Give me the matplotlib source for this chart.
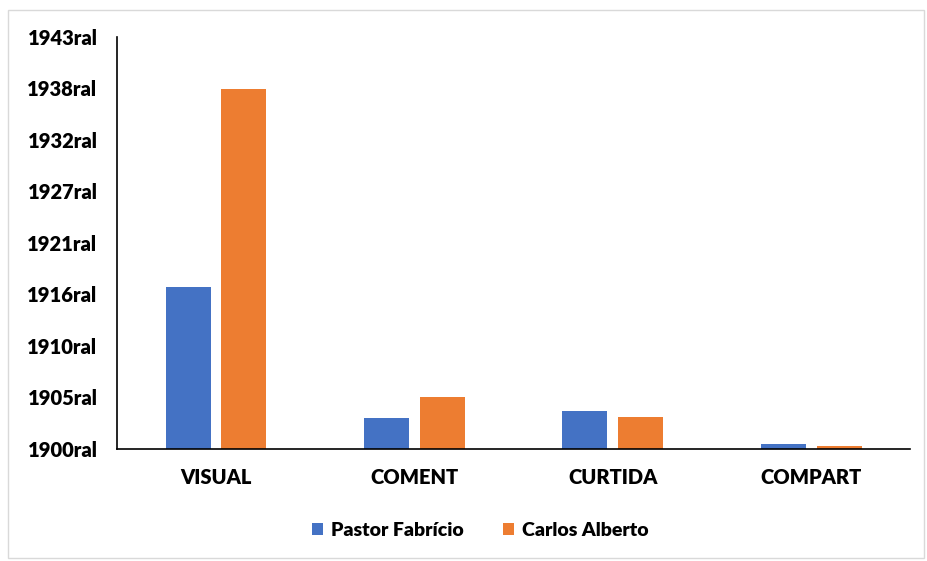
import matplotlib.pyplot as plt
import numpy as np
from matplotlib.patches import Rectangle

categories = ['VISUAL', 'COMENT', 'CURTIDA', 'COMPART']
pastor = [1916.9, 1903.2, 1903.9, 1900.5]
carlos = [1937.6, 1905.4, 1903.3, 1900.3]
ytick_labels = ['1900ral', '1905ral', '1910ral', '1916ral', '1921ral',
                '1927ral', '1932ral', '1938ral', '1943ral']
base = 1900

plt.rcParams['font.family'] = ['Lato', 'DejaVu Sans']

fig = plt.figure(figsize=(9.27, 5.61), dpi=100)
ax = fig.add_axes([0.126, 0.2005, 0.856, 0.7335])

fig.patches.append(Rectangle((0.009, 0.005), 0.988, 0.978, transform=fig.transFigure,
                             fill=False, edgecolor='#d9d9d9', linewidth=1))

x = np.arange(len(categories))
w = 0.227
off = 0.141
ax.bar(x - off, np.array(pastor) - base, w, bottom=base, color='#4472c4', label='Pastor Fabrício')
ax.bar(x + off, np.array(carlos) - base, w, bottom=base, color='#ed7d31', label='Carlos Alberto')

ax.set_xlim(-0.5, 3.5)
ax.set_ylim(1900, 1943)
ax.set_yticks(np.linspace(1900, 1943, len(ytick_labels)))
ax.set_yticklabels(ytick_labels)
ax.set_xticks(x)
ax.set_xticklabels(categories)
ax.tick_params(axis='both', length=0, labelsize=14.5)
ax.tick_params(axis='y', pad=14)
ax.tick_params(axis='x', pad=14)
for lbl in ax.get_xticklabels() + ax.get_yticklabels():
    lbl.set_fontweight('heavy')

for s in ['top', 'right']:
    ax.spines[s].set_visible(False)
ax.spines['left'].set_linewidth(1.2)
ax.spines['bottom'].set_linewidth(1.2)

fig.legend(loc='center', bbox_to_anchor=(0.518, 0.055), ncol=2, frameon=False,
           prop={'weight': 'heavy', 'size': 14}, handlelength=0.6, handleheight=0.6,
           columnspacing=2.0, handletextpad=0.4)

fig.savefig('out.png', dpi=100)
